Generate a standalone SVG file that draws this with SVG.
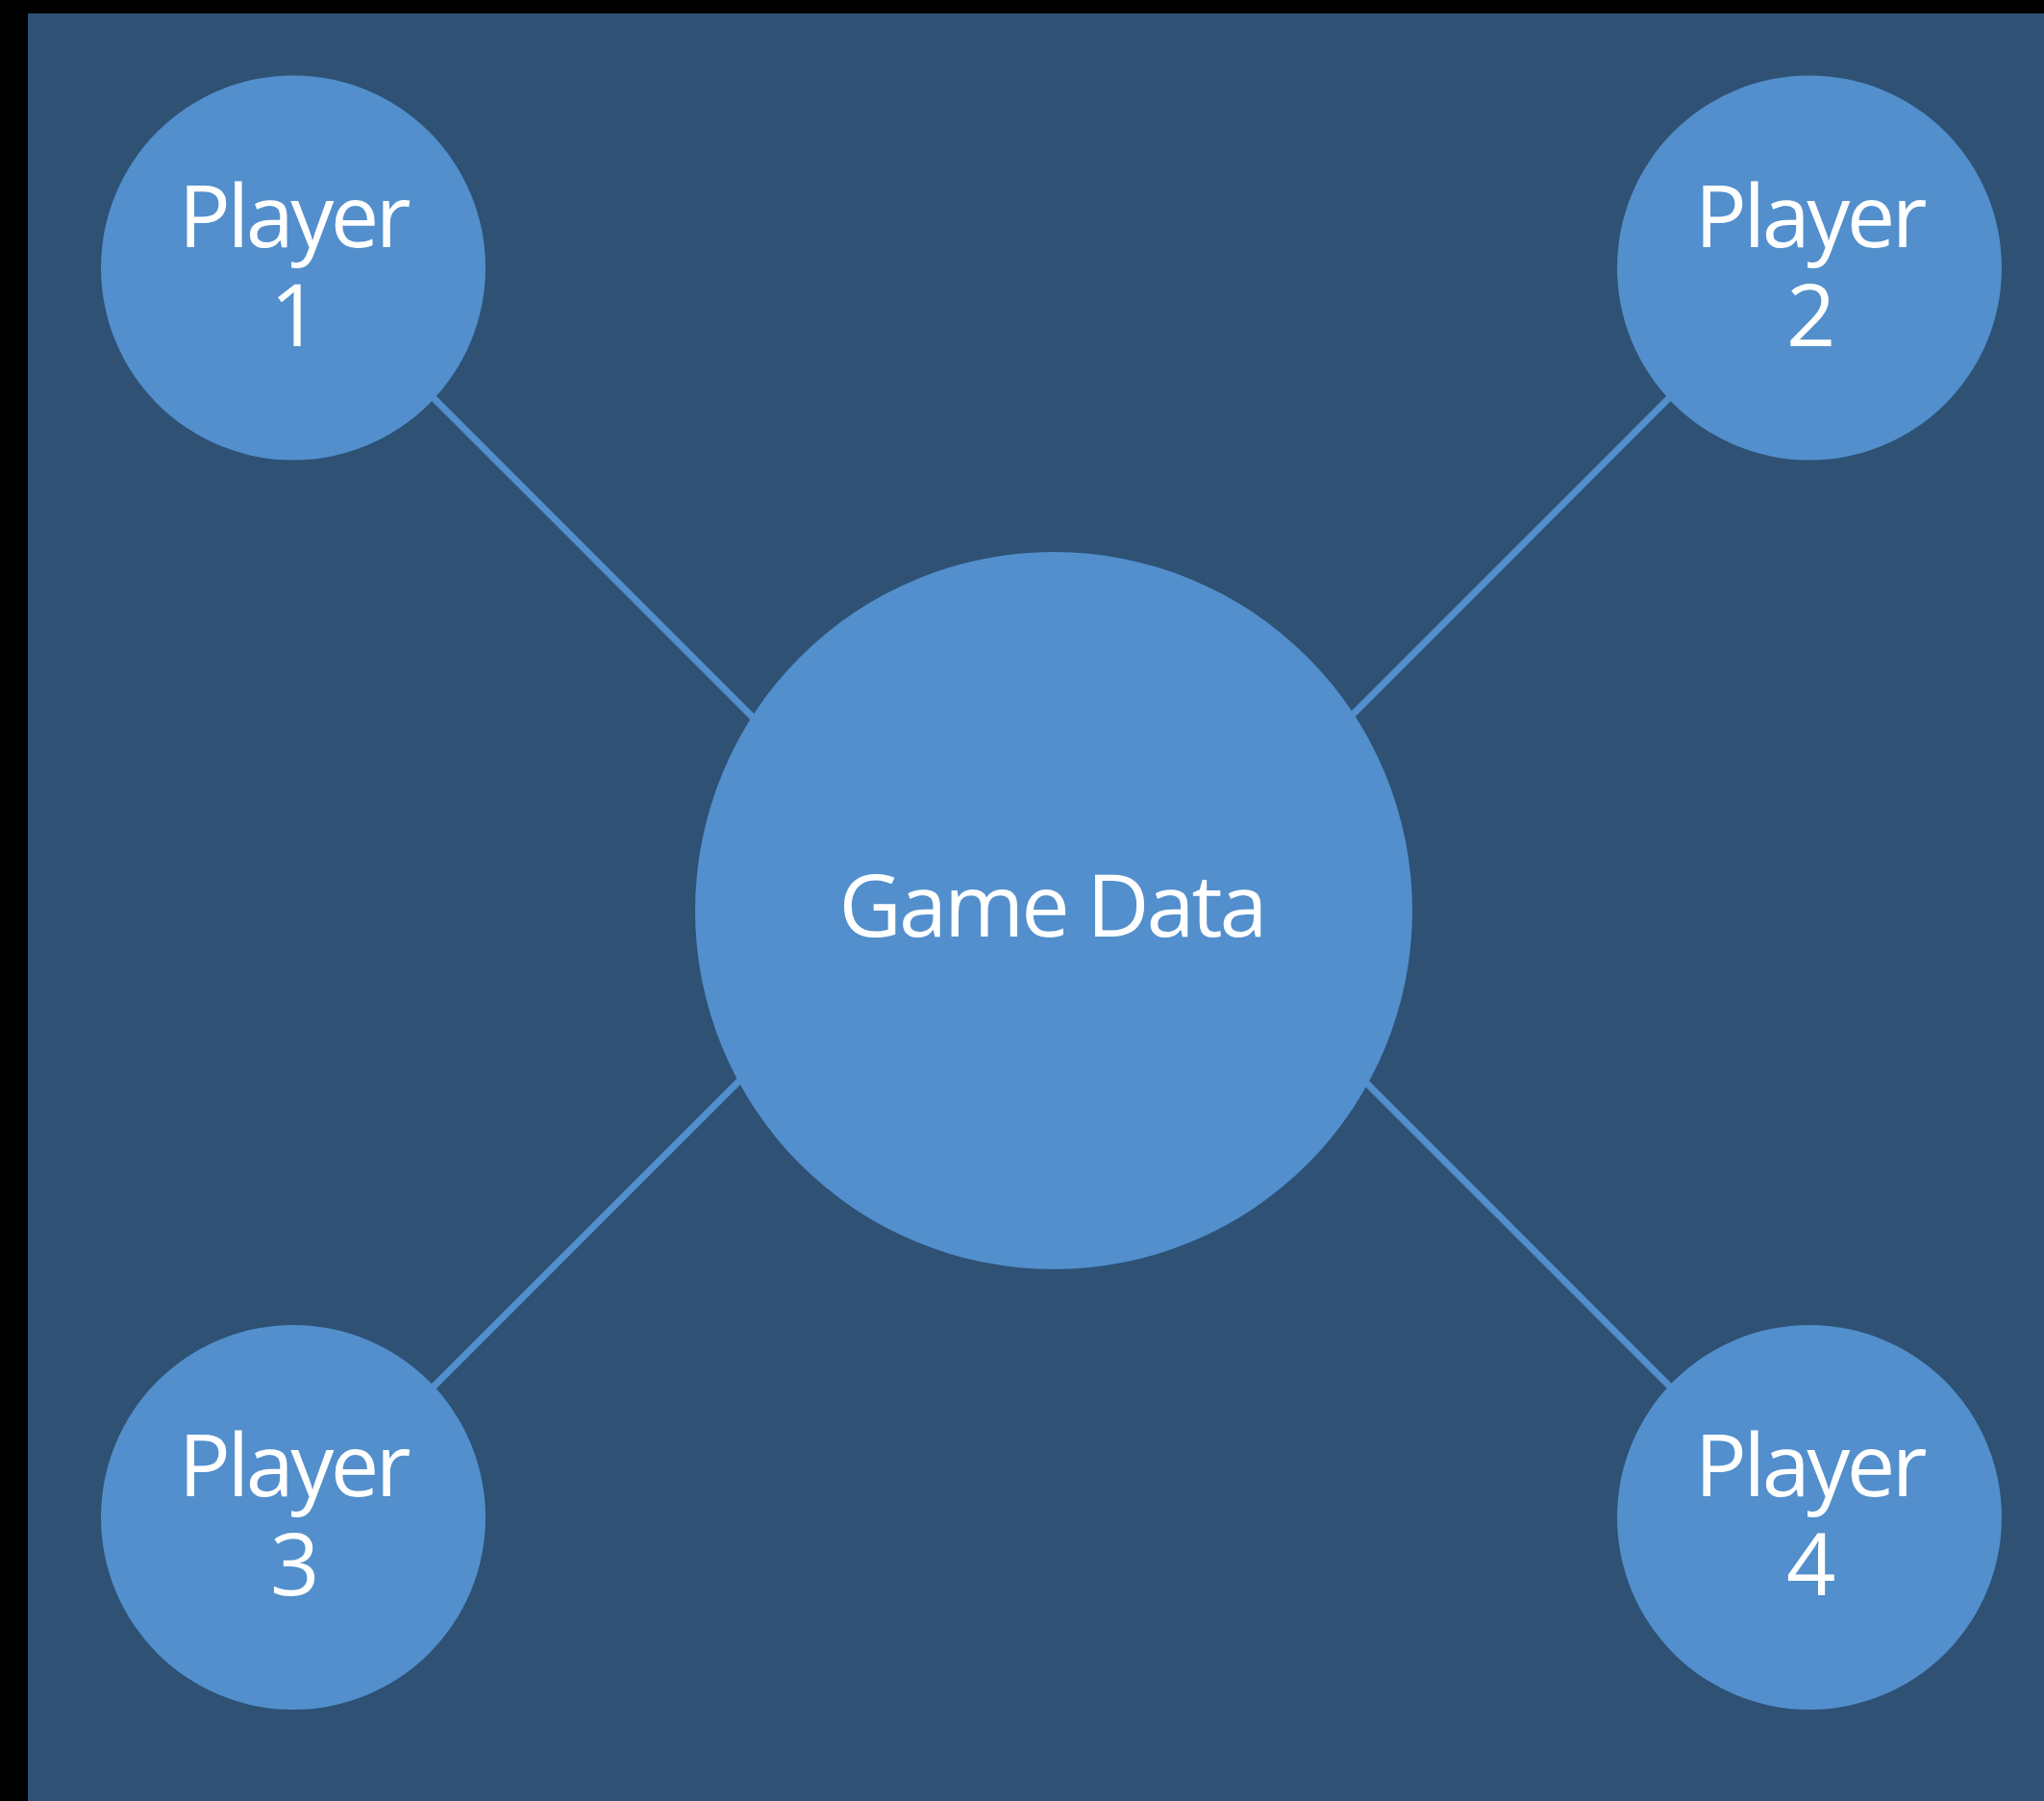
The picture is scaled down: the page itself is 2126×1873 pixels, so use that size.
<svg xmlns="http://www.w3.org/2000/svg" width="2126" height="1873" viewBox="0 0 2126 1873">
  <style>
    .bg { fill: #2E5174; }
    .node { fill: #528FCC; }
    .link { stroke: #528FCC; stroke-width: 7; fill: none; }
    .label { fill: #FFFFFF; font-family: "Open Sans", "Noto Sans", "Liberation Sans", sans-serif; font-size: 90px; letter-spacing: -3.5px; text-anchor: middle; }
  </style>

  <!-- frame and backdrop -->
  <rect x="0" y="0" width="2126" height="1873" fill="#000000"/>
  <rect class="bg" x="29" y="14" width="2097" height="1859"/>

  <!-- connectors (drawn beneath the nodes) -->
  <g id="connectors">
    <line class="link" x1="430" y1="393" x2="800" y2="763"/>
    <line class="link" x1="1750" y1="400" x2="1390" y2="760"/>
    <line class="link" x1="430" y1="1463" x2="800" y2="1093"/>
    <line class="link" x1="1390" y1="1095" x2="1750" y2="1455"/>
  </g>

  <g id="game-data">
    <circle class="node" cx="1096" cy="947" r="373"/>
    <text class="label" x="1094" y="974" style="letter-spacing:-3px">Game Data</text>
  </g>

  <g id="player-1">
    <circle class="node" cx="305" cy="278.5" r="200"/>
    <text class="label" y="257"><tspan x="305">Player</tspan><tspan x="305" dy="103">1</tspan></text>
  </g>

  <g id="player-2">
    <circle class="node" cx="1882" cy="278.5" r="200"/>
    <text class="label" y="257"><tspan x="1882">Player</tspan><tspan x="1882" dy="103">2</tspan></text>
  </g>

  <g id="player-3">
    <circle class="node" cx="305" cy="1578" r="200"/>
    <text class="label" y="1556"><tspan x="305">Player</tspan><tspan x="305" dy="103">3</tspan></text>
  </g>

  <g id="player-4">
    <circle class="node" cx="1882" cy="1578" r="200"/>
    <text class="label" y="1556"><tspan x="1882">Player</tspan><tspan x="1882" dy="103">4</tspan></text>
  </g>
</svg>
